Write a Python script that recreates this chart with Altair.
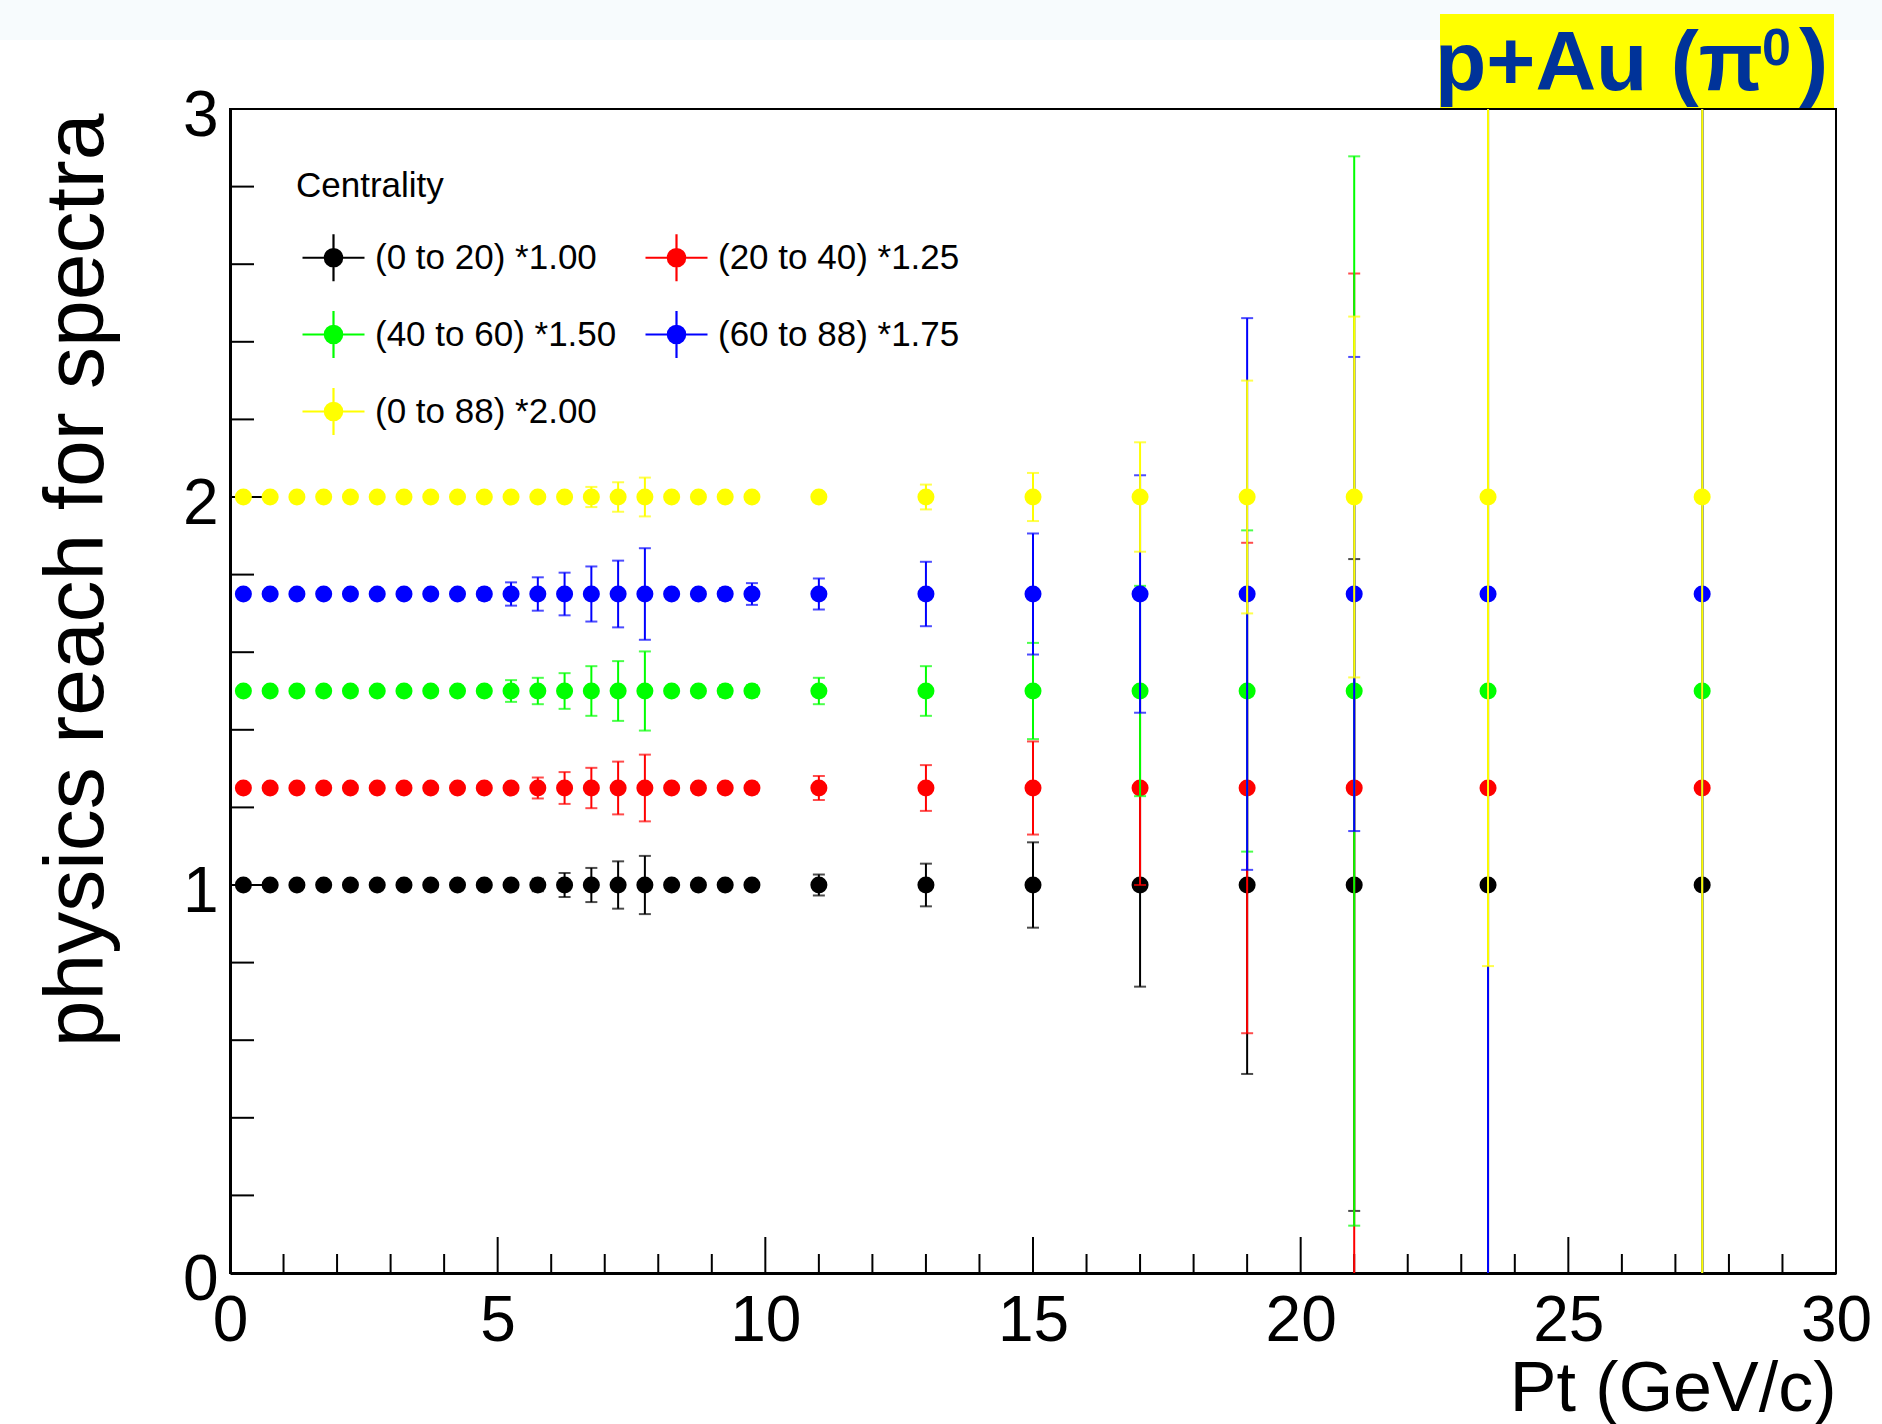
import altair as alt
import pandas as pd

# ---------------- data ----------------
pt = [0.25, 0.75, 1.25, 1.75, 2.25, 2.75, 3.25, 3.75, 4.25, 4.75,
      5.25, 5.75, 6.25, 6.75, 7.25, 7.75, 8.25, 8.75, 9.25, 9.75,
      11.0, 13.0, 15.0, 17.0, 19.0, 21.0, 23.5, 27.5]

series = ["(0 to 20) *1.00", "(20 to 40) *1.25", "(40 to 60) *1.50",
          "(60 to 88) *1.75", "(0 to 88) *2.00"]
colors = ["#000000", "#ff0000", "#00ff00", "#0000ff", "#ffff00"]

y_black = [1.00, 1.00, 1.00, 1.00, 1.00, 1.00, 1.00, 1.00, 1.00, 1.00, 1.00, 1.00, 1.00, 1.00,
           1.00, 1.00, 1.00, 1.00, 1.00, 1.00, 1.00, 1.00, 1.00, 1.00, 1.00, 1.00, 1.00, 1.00]
y_red = [1.25, 1.25, 1.25, 1.25, 1.25, 1.25, 1.25, 1.25, 1.25, 1.25, 1.25, 1.25, 1.25, 1.25,
         1.25, 1.25, 1.25, 1.25, 1.25, 1.25, 1.25, 1.25, 1.25, 1.25, 1.25, 1.25, 1.25, 1.25]
y_green = [1.50, 1.50, 1.50, 1.50, 1.50, 1.50, 1.50, 1.50, 1.50, 1.50, 1.50, 1.50, 1.50, 1.50,
           1.50, 1.50, 1.50, 1.50, 1.50, 1.50, 1.50, 1.50, 1.50, 1.50, 1.50, 1.50, 1.50, 1.50]
y_blue = [1.75, 1.75, 1.75, 1.75, 1.75, 1.75, 1.75, 1.75, 1.75, 1.75, 1.75, 1.75, 1.75, 1.75,
          1.75, 1.75, 1.75, 1.75, 1.75, 1.75, 1.75, 1.75, 1.75, 1.75, 1.75, 1.75, 1.75, 1.75]
y_yellow = [2.00, 2.00, 2.00, 2.00, 2.00, 2.00, 2.00, 2.00, 2.00, 2.00, 2.00, 2.00, 2.00, 2.00,
            2.00, 2.00, 2.00, 2.00, 2.00, 2.00, 2.00, 2.00, 2.00, 2.00, 2.00, 2.00, 2.00, 2.00]

err_black = [0.003, 0.003, 0.003, 0.003, 0.004, 0.004, 0.004, 0.005, 0.005, 0.006,
             0.008, 0.016, 0.031, 0.044, 0.061, 0.075, 0.005, 0.006, 0.006, 0.007,
             0.027, 0.055, 0.110, 0.262, 0.487, 0.840, 2.20, 2.50]
err_red = [0.003, 0.003, 0.003, 0.004, 0.004, 0.004, 0.005, 0.005, 0.006, 0.007,
           0.012, 0.027, 0.041, 0.052, 0.068, 0.086, 0.006, 0.007, 0.008, 0.014,
           0.031, 0.059, 0.120, 0.250, 0.632, 1.326, 2.00, 2.50]
err_green = [0.003, 0.003, 0.004, 0.004, 0.004, 0.005, 0.005, 0.006, 0.007, 0.012,
             0.028, 0.034, 0.046, 0.064, 0.077, 0.102, 0.008, 0.010, 0.015, 0.015,
             0.034, 0.064, 0.124, 0.271, 0.414, 1.378, 1.90, 2.50]
err_blue = [0.003, 0.004, 0.004, 0.004, 0.005, 0.005, 0.006, 0.007, 0.008, 0.015,
            0.030, 0.043, 0.055, 0.071, 0.086, 0.118, 0.008, 0.010, 0.015, 0.028,
            0.040, 0.083, 0.156, 0.306, 0.711, 0.611, 1.90, 2.50]
err_yellow = [0.002, 0.002, 0.003, 0.003, 0.003, 0.003, 0.004, 0.004, 0.004, 0.005,
              0.006, 0.008, 0.012, 0.026, 0.038, 0.050, 0.005, 0.006, 0.006, 0.007,
              0.010, 0.032, 0.062, 0.141, 0.300, 0.465, 1.209, 2.30]

x_major = [0, 5, 10, 15, 20, 25, 30]
x_minor = [1, 2, 3, 4, 6, 7, 8, 9, 11, 12, 13, 14, 16, 17, 18, 19,
           21, 22, 23, 24, 26, 27, 28, 29]
y_major = [0, 1, 2, 3]
y_minor = [0.2, 0.4, 0.6, 0.8, 1.2, 1.4, 1.6, 1.8, 2.2, 2.4, 2.6, 2.8]

title_main = "p+Au (π"
title_sup = "0"
title_close = ")"

# ---------------- build table ----------------
rows = []
for s, ys_, es_ in zip(series,
                       [y_black, y_red, y_green, y_blue, y_yellow],
                       [err_black, err_red, err_green, err_blue, err_yellow]):
    for p, y, e in zip(pt, ys_, es_):
        rows.append({"series": s, "pt": p, "y": y, "lo": y - e, "hi": y + e})
df = pd.DataFrame(rows)

W, H = 1606, 1164
FONT = "Liberation Sans"

xs = alt.Scale(domain=[0, 30], nice=False, zero=False)
ysc = alt.Scale(domain=[0, 3], nice=False, zero=False)
cs = alt.Scale(domain=series, range=colors)

axisX = alt.Axis(values=x_major, title="Pt (GeV/c)", ticks=False, grid=False,
                 labelFontSize=64, labelFont=FONT, labelColor="black", labelPadding=16,
                 labelFlush=False, domainColor="black", domainWidth=3,
                 titleFont=FONT, titleFontSize=70, titleFontWeight="normal",
                 titleColor="black", titleAnchor="end", titleAlign="right",
                 titleBaseline="alphabetic", titleX=W, titleY=137)
axisY = alt.Axis(values=y_major, title="physics reach for spectra", ticks=False, grid=False,
                 labelFontSize=64, labelFont=FONT, labelColor="black", labelPadding=12,
                 labelOffset=7, labelFlush=False, domainColor="black", domainWidth=3,
                 titleFont=FONT, titleFontSize=84, titleFontWeight="normal",
                 titleColor="black", titleAngle=270, titleAnchor="end", titleAlign="right",
                 titleBaseline="alphabetic", titleX=-128, titleY=4)

# legend glyph: horizontal + vertical error-bar cross with a dot drawn as concentric rings
def ring(r):
    return f"M{-r},0A{r},{r},0,1,0,{r},0A{r},{r},0,1,0,{-r},0"

PATH = "M-1,0L1,0M0,-0.76L0,0.76" + "".join(
    ring(r) for r in [0.28, 0.24, 0.20, 0.16, 0.12, 0.08, 0.04, 0.01])

legend = alt.Legend(title="Centrality", orient="none", legendX=66, legendY=60,
                    columns=2, direction="horizontal", symbolType=PATH, symbolSize=3844,
                    symbolStrokeWidth=2.2, symbolOpacity=1, symbolOffset=5,
                    labelFont=FONT, labelFontSize=35, labelColor="black", labelLimit=600,
                    labelOffset=9, titleFont=FONT, titleFontSize=35,
                    titleFontWeight="normal", titleColor="black", titlePadding=21,
                    rowPadding=16, columnPadding=22, padding=0)

X = alt.X("pt:Q", scale=xs, axis=axisX)

layers = []

# faint band on top of the canvas
layers.append(alt.Chart(pd.DataFrame({"a": [0]})).mark_rect(color="#f7fbfd").encode(
    x=alt.value(-230), x2=alt.value(1652), y=alt.value(-109), y2=alt.value(-69)))

# inward ticks
layers.append(alt.Chart(pd.DataFrame({"v": x_major})).mark_rule(color="black", strokeWidth=2).encode(
    x=alt.X("v:Q", scale=xs, axis=axisX), y=alt.value(H), y2=alt.value(H - 36)))
layers.append(alt.Chart(pd.DataFrame({"v": x_minor})).mark_rule(color="black", strokeWidth=2).encode(
    x=alt.X("v:Q", scale=xs, axis=axisX), y=alt.value(H), y2=alt.value(H - 19)))
layers.append(alt.Chart(pd.DataFrame({"v": y_major})).mark_rule(color="black", strokeWidth=2).encode(
    y=alt.Y("v:Q", scale=ysc, axis=axisY), x=alt.value(0), x2=alt.value(48)))
layers.append(alt.Chart(pd.DataFrame({"v": y_minor})).mark_rule(color="black", strokeWidth=2).encode(
    y=alt.Y("v:Q", scale=ysc, axis=axisY), x=alt.value(0), x2=alt.value(24)))

for i, s in enumerate(series):
    base = alt.Chart(df).transform_filter(alt.datum.series == s)
    c = colors[i]
    if i == 0:
        # this layer carries the colour scale and the legend
        layers.append(base.mark_rule(strokeWidth=2, clip=True).encode(
            x=X, y=alt.Y("lo:Q", scale=ysc, axis=axisY), y2="hi:Q",
            color=alt.Color("series:N", scale=cs, legend=legend)))
    else:
        layers.append(base.mark_rule(strokeWidth=2, clip=True, color=c).encode(
            x=X, y=alt.Y("lo:Q", scale=ysc, axis=axisY), y2="hi:Q"))
    layers.append(base.mark_tick(orient="horizontal", size=12, thickness=2, clip=True,
                                 color=c).encode(
        x=X, y=alt.Y("lo:Q", scale=ysc, axis=axisY)))
    layers.append(base.mark_tick(orient="horizontal", size=12, thickness=2, clip=True,
                                 color=c).encode(
        x=X, y=alt.Y("hi:Q", scale=ysc, axis=axisY)))
    layers.append(base.mark_point(shape="circle", size=290, strokeWidth=1, opacity=1,
                                  filled=True, color=c).encode(
        x=X, y=alt.Y("y:Q", scale=ysc, axis=axisY)))

# title box
layers.append(alt.Chart(pd.DataFrame({"a": [0]})).mark_rect(color="#ffff00").encode(
    x=alt.value(1210), x2=alt.value(1604), y=alt.value(-95), y2=alt.value(-1)))
layers.append(alt.Chart(pd.DataFrame({"t": [title_main]})).mark_text(
    font=FONT, fontSize=84, fontWeight="bold", color="#003399", align="right",
    baseline="alphabetic").encode(text="t:N", x=alt.value(1533), y=alt.value(-19)))
layers.append(alt.Chart(pd.DataFrame({"t": [title_sup]})).mark_text(
    font=FONT, fontSize=52, fontWeight="bold", color="#003399", align="left",
    baseline="alphabetic").encode(text="t:N", x=alt.value(1532), y=alt.value(-44)))
layers.append(alt.Chart(pd.DataFrame({"t": [title_close]})).mark_text(
    font=FONT, fontSize=88, fontWeight="bold", color="#003399", align="left",
    baseline="alphabetic").encode(text="t:N", x=alt.value(1569), y=alt.value(-19)))

chart = alt.layer(*layers).properties(
    width=W, height=H,
    autosize=alt.AutoSizeParams(type="none"),
    padding={"left": 230, "top": 109, "right": 46, "bottom": 151},
).configure(background="white", font=FONT).configure_view(stroke="black", strokeWidth=2)

chart.save("out.html", embed_options={"renderer": "svg", "actions": False})
